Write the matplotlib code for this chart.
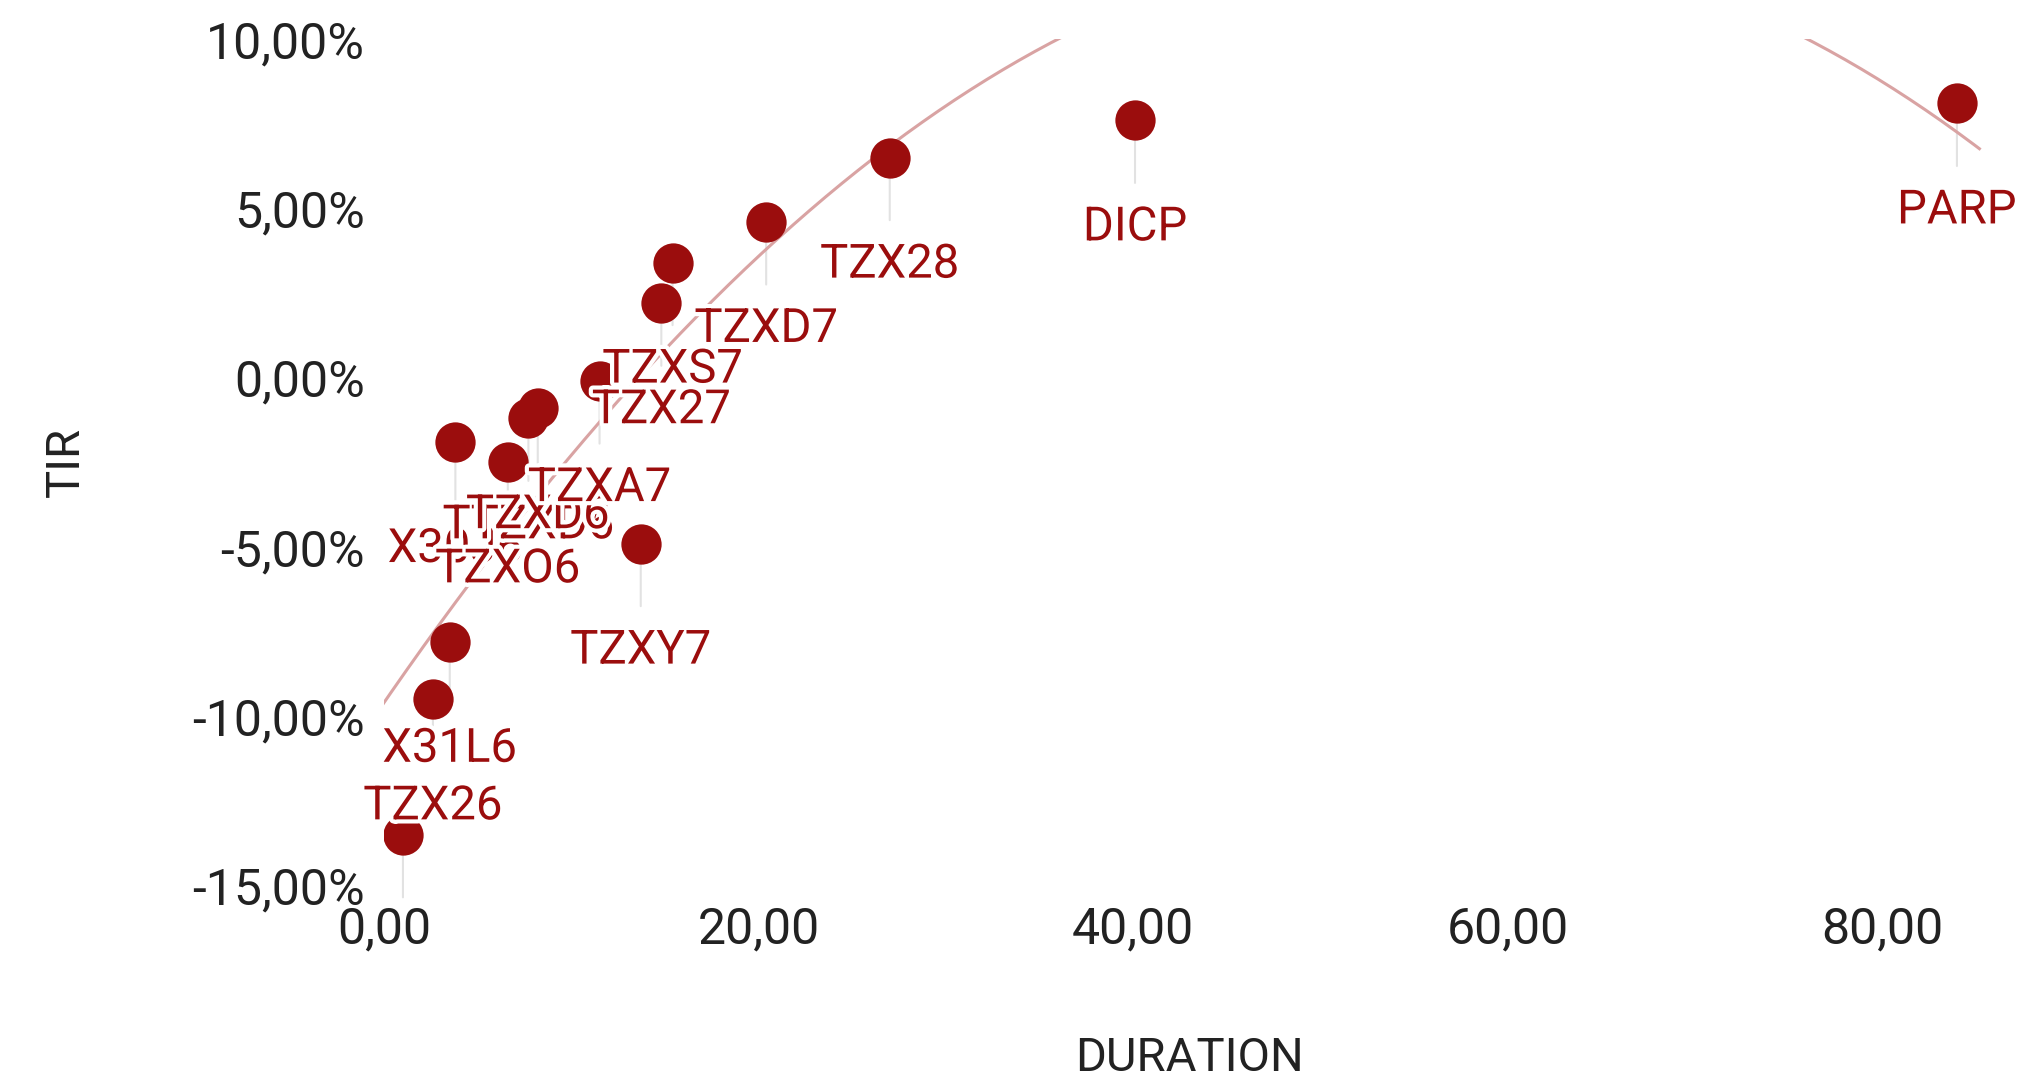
import numpy as np
import matplotlib.pyplot as plt
from matplotlib.ticker import FuncFormatter
from matplotlib.transforms import Bbox, TransformedBbox
import matplotlib.patheffects as pe

plt.rcParams['font.family'] = ['Roboto', 'DejaVu Sans']

# bonds: duration vs TIR (%)
tickers = ["T2X4", "TZX26", "X31L6", "X30J6", "TZXO6", "TTZXD6", "TZXD6", "TZXA7",
           "TZXY7", "TZX27", "TZXS7", "TZXD7", "TZX28", "DICP", "PARP"]
duration = [1.0, 2.6, 3.5, 3.8, 6.6, 7.7, 8.2, 11.5, 13.7, 14.8, 15.4, 20.4, 27.0, 40.1, 84.0]
tir = [-13.5, -9.5, -7.8, -1.9, -2.5, -1.2, -0.9, -0.1, -4.9, 2.2, 3.4, 4.6, 6.5, 7.6, 8.1]

# quadratic trend line: y = c - a*(x - x0)^2
trend_c, trend_a, trend_x0 = 12.87, 0.00716, 56.0

red = '#9b0d0d'

fig = plt.figure(figsize=(20.33, 10.88), dpi=100)
ax = fig.add_axes([0.189, 0.186, 0.792, 0.778])

xs = np.linspace(-0.5, 85.2, 300)
ax.plot(xs, trend_c - trend_a * (xs - trend_x0) ** 2, color='#d9a3a3', lw=2.2, zorder=1)

# labels are clipped at the bottom of the plot area only
clip = TransformedBbox(Bbox([[-0.3, 0.0], [1.3, 1.0]]), ax.transAxes)

for x, y, name in zip(duration, tir, tickers):
    ax.annotate('', xy=(x, y), xytext=(0, -47), textcoords='offset points',
                arrowprops=dict(arrowstyle='-', color='#e2e2e2', lw=1.5), zorder=0)
for x, y, name in zip(duration, tir, tickers):
    t = ax.annotate(name, xy=(x, y), xytext=(0, -77), textcoords='offset points',
                    ha='center', va='center', fontsize=34, color=red, zorder=4)
    t.set_path_effects([pe.withStroke(linewidth=6, foreground='white')])
    t.set_clip_box(clip)
    t.set_clip_on(True)

ax.scatter(duration, tir, s=29 ** 2, color=red, zorder=3, linewidths=0)

ax.set_xlim(0, 86)
ax.set_ylim(-15, 10)
ax.set_xticks([0, 20, 40, 60, 80])
ax.set_yticks([-15, -10, -5, 0, 5, 10])
ax.xaxis.set_major_formatter(FuncFormatter(lambda v, p: f"{v:.2f}".replace('.', ',')))
ax.yaxis.set_major_formatter(FuncFormatter(lambda v, p: f"{v:.2f}%".replace('.', ',')))
for s in ax.spines.values():
    s.set_visible(False)
ax.tick_params(length=0, labelsize=36, colors='#222222', pad=14)
ax.set_xlabel('DURATION', fontsize=34, color='#222222', labelpad=60)
ax.set_ylabel('TIR', fontsize=34, color='#222222', labelpad=75)

fig.savefig('out.png', dpi=100)
